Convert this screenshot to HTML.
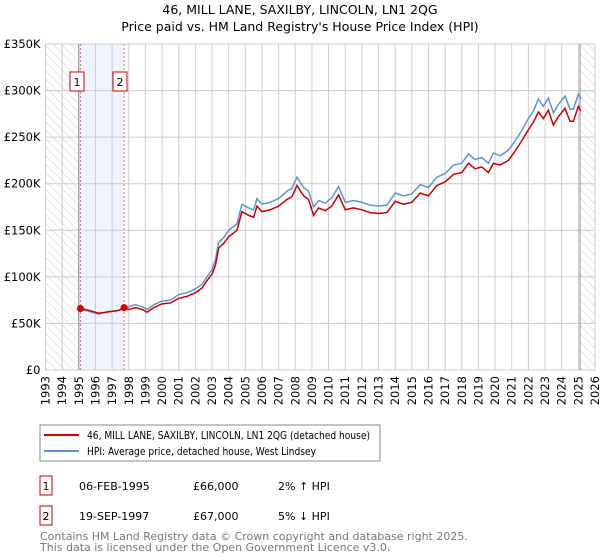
<!DOCTYPE html>
<html><head><meta charset="utf-8">
<style>
body{margin:0;background:#fff;font-family:"Liberation Sans","DejaVu Sans",sans-serif;}
#wrap{position:relative;width:600px;height:560px;overflow:hidden;}
svg text{font-family:"DejaVu Sans","Liberation Sans",sans-serif;}
</style></head>
<body><div id="wrap">
<svg id="chart" width="600" height="560">
<defs><pattern id="hatch" width="6" height="6" patternUnits="userSpaceOnUse" patternTransform="rotate(-45)"><line x1="0" y1="0" x2="0" y2="6" stroke="#ccc" stroke-width="1"/></pattern></defs>
<text x="300" y="14" text-anchor="middle" font-size="12.5" fill="#000">46, MILL LANE, SAXILBY, LINCOLN, LN1 2QG</text>
<text x="300" y="31" text-anchor="middle" font-size="12.5" fill="#000">Price paid vs. HM Land Registry's House Price Index (HPI)</text>
<g id="grid"></g><g id="marks"></g><g id="axes"></g>
<rect x="40" y="425" width="340" height="36" fill="#fff" stroke="#888"/>
<line x1="44" y1="435" x2="79" y2="435" stroke="#cc0000" stroke-width="2"/>
<text x="87" y="439" font-size="11" textLength="283" lengthAdjust="spacingAndGlyphs">46, MILL LANE, SAXILBY, LINCOLN, LN1 2QG (detached house)</text>
<line x1="44" y1="451" x2="79" y2="451" stroke="#6093d3" stroke-width="2"/>
<text x="87" y="455" font-size="11" textLength="229" lengthAdjust="spacingAndGlyphs">HPI: Average price, detached house, West Lindsey</text>
<rect x="40" y="476" width="12" height="19" fill="#fff" stroke="#cc0000"/>
<text x="46" y="490" text-anchor="middle" font-size="11">1</text>
<text x="79" y="490" font-size="11">06-FEB-1995</text>
<text x="193" y="490" font-size="11">£66,000</text>
<text x="278" y="490" font-size="11">2% ↑ HPI</text>
<rect x="40" y="506" width="12" height="19" fill="#fff" stroke="#cc0000"/>
<text x="46" y="520" text-anchor="middle" font-size="11">2</text>
<text x="79" y="520" font-size="11">19-SEP-1997</text>
<text x="193" y="520" font-size="11">£67,000</text>
<text x="278" y="520" font-size="11">5% ↓ HPI</text>
<text x="40" y="540" font-size="11" fill="#777">Contains HM Land Registry data © Crown copyright and database right 2025.</text>
<text x="40" y="551" font-size="11" fill="#777">This data is licensed under the Open Government Licence v3.0.</text>
</svg></div>
<script>
const yTicks=[0,50000,100000,150000,200000,250000,300000,350000];
const yTickLabels=["£0","£50K","£100K","£150K","£200K","£250K","£300K","£350K"];
const hpiT=[1995.1,1995.4,1995.8,1996.2,1996.6,1997.0,1997.4,1997.7,1998.0,1998.4,1998.8,1999.1,1999.5,2000.0,2000.5,2001.0,2001.5,2002.0,2002.4,2002.7,2003.0,2003.2,2003.4,2003.7,2004.0,2004.5,2004.8,2005.2,2005.5,2005.7,2006.0,2006.5,2007.0,2007.5,2007.8,2008.1,2008.5,2008.8,2009.1,2009.4,2009.8,2010.2,2010.6,2011.0,2011.5,2012.0,2012.5,2013.0,2013.5,2014.0,2014.5,2015.0,2015.5,2016.0,2016.5,2017.0,2017.5,2018.0,2018.4,2018.8,2019.2,2019.6,2019.9,2020.3,2020.8,2021.2,2021.6,2022.0,2022.3,2022.6,2022.9,2023.2,2023.5,2023.8,2024.2,2024.5,2024.7,2025.0,2025.15];
const hpiV=[65000,64000,62000,60000,62000,63000,64000,66000,68000,70000,68000,65000,70000,74000,75000,81000,83000,87000,92000,100000,108000,118000,137000,142000,150000,157000,178000,174000,172000,184000,178000,180000,184000,192000,195000,207000,196000,192000,175000,182000,179000,185000,197000,180000,182000,180000,177000,176000,177000,190000,187000,189000,199000,196000,207000,211000,220000,222000,232000,226000,228000,222000,233000,230000,236000,246000,257000,270000,278000,291000,283000,292000,276000,285000,294000,280000,280000,296000,291000];
const redT=hpiT;
const redV=[66000,65000,63000,61000,62000,63000,64000,67000,65000,67000,65000,62000,67000,71000,72000,77000,79000,83000,88000,96000,103000,112000,131000,136000,143000,150000,170000,166000,164000,176000,170000,172000,176000,183000,186000,198000,187000,183000,166000,174000,171000,176000,188000,172000,174000,172000,169000,168000,169000,181000,178000,180000,190000,187000,198000,202000,210000,212000,222000,216000,218000,212000,222000,220000,225000,235000,246000,258000,266000,277000,270000,279000,263000,272000,281000,267000,267000,283000,278000];
const years=[];for(let y=1993;y<=2026;y++)years.push(y);
const sales=[{t:1995.1,v:66000,n:"1",lx:77},{t:1997.72,v:67000,n:"2",lx:120}];
const X0=45.5,X1=595,Y0=370,Y1=44;
const x=t=>X0+(t-1993)/(2026-1993)*(X1-X0);
const y=v=>Y0-v/350000*(Y0-Y1);
const NS="http://www.w3.org/2000/svg";
function mk(tag,attrs,parent){const e=document.createElementNS(NS,tag);for(const k in attrs)e.setAttribute(k,attrs[k]);parent.appendChild(e);return e;}
const G=document.getElementById('grid'),M=document.getElementById('marks'),A=document.getElementById('axes');
let r=mk('rect',{x:X0,y:Y1,width:x(1995)-X0,height:Y0-Y1,fill:'url(#hatch)'},G);


r=mk('rect',{x:x(2025.1),y:Y1,width:X1-x(2025.1),height:Y0-Y1,fill:'url(#hatch)'},G);


r=mk('rect',{x:x(sales[0].t),y:Y1,width:x(sales[1].t)-x(sales[0].t),height:Y0-Y1,fill:'#eef3fc'},G);


years.forEach(yr=>{const l=mk('line',{x1:x(yr),x2:x(yr),y1:Y1,y2:Y0,stroke:'#ccc','stroke-width':1},G);


const t=mk('text',{x:0,y:0,'font-size':11.5,'text-anchor':'end',transform:`translate(${x(yr)+4},${Y0+6}) rotate(-90)`},A);t.textContent=yr;

});
yTicks.forEach((v,i)=>{const l=mk('line',{x1:X0,x2:X1,y1:y(v),y2:y(v),stroke:'#ccc','stroke-width':1},G);


const t=mk('text',{x:X0-5,y:y(v)+4,'font-size':11.5,'text-anchor':'end'},A);t.textContent=yTickLabels[i];

});
let l=mk('line',{x1:x(1995),x2:x(1995),y1:Y1,y2:Y0,stroke:'#888','stroke-width':1},G);


l=mk('line',{x1:x(2025.1),x2:x(2025.1),y1:Y1,y2:Y0,stroke:'#888','stroke-width':1},G);


let p=mk('polyline',{points:hpiT.map((t,i)=>x(t)+','+y(hpiV[i])).join(' '),fill:'none',stroke:'#6093d3','stroke-width':1.5},M);


p=mk('polyline',{points:redT.map((t,i)=>x(t)+','+y(redV[i])).join(' '),fill:'none',stroke:'#cc0000','stroke-width':1.5},M);


sales.forEach(s=>{const d=mk('line',{x1:x(s.t),x2:x(s.t),y1:Y1,y2:Y0,stroke:'#f07070','stroke-width':1,'stroke-dasharray':'2,2'},M);


const c=mk('circle',{cx:x(s.t),cy:y(s.v),r:3.5,fill:'#cc0000'},M);


const b=mk('rect',{x:s.lx-7,y:72,width:14,height:19,fill:'#fff',stroke:'#cc0000'},M);


const t=mk('text',{x:s.lx,y:86,'font-size':11,'text-anchor':'middle'},M);t.textContent=s.n;

});
</script>
</body></html>
